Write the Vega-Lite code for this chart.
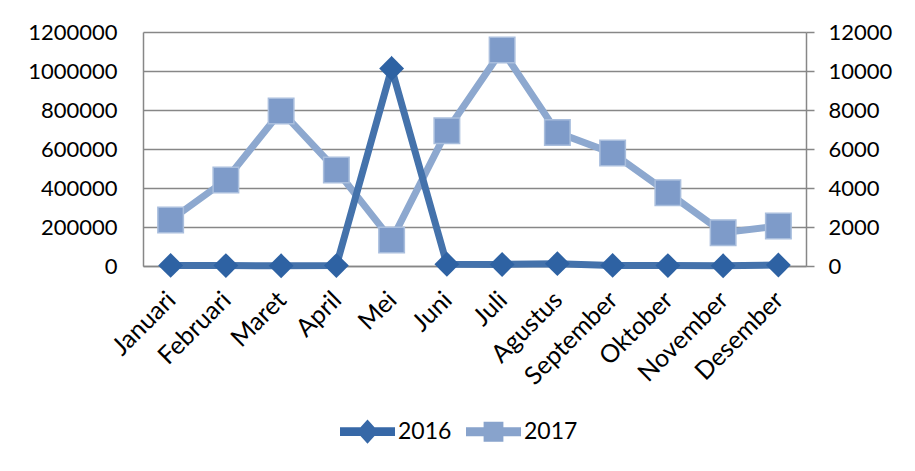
{
  "$schema": "https://vega.github.io/schema/vega-lite/v6.json",
  "width": 663,
  "height": 234,
  "autosize": {"type": "none"},
  "padding": {"left": 143, "top": 32, "right": 109, "bottom": 205},
  "background": "white",
  "config": {"view": {"stroke": null}, "font": "Lato"},
  "data": {"values": [
    {"month": "Januari", "series": "2016", "value": 3000},
    {"month": "Februari", "series": "2016", "value": 2000},
    {"month": "Maret", "series": "2016", "value": 1000},
    {"month": "April", "series": "2016", "value": 2000},
    {"month": "Mei", "series": "2016", "value": 1013000},
    {"month": "Juni", "series": "2016", "value": 9000},
    {"month": "Juli", "series": "2016", "value": 8000},
    {"month": "Agustus", "series": "2016", "value": 12000},
    {"month": "September", "series": "2016", "value": 3000},
    {"month": "Oktober", "series": "2016", "value": 2000},
    {"month": "November", "series": "2016", "value": 1000},
    {"month": "Desember", "series": "2016", "value": 5000},
    {"month": "Januari", "series": "2017", "value": 2360},
    {"month": "Februari", "series": "2017", "value": 4410},
    {"month": "Maret", "series": "2017", "value": 7950},
    {"month": "April", "series": "2017", "value": 4920},
    {"month": "Mei", "series": "2017", "value": 1330},
    {"month": "Juni", "series": "2017", "value": 6930},
    {"month": "Juli", "series": "2017", "value": 11080},
    {"month": "Agustus", "series": "2017", "value": 6840},
    {"month": "September", "series": "2017", "value": 5790},
    {"month": "Oktober", "series": "2017", "value": 3760},
    {"month": "November", "series": "2017", "value": 1710},
    {"month": "Desember", "series": "2017", "value": 2050}
  ]},
  "encoding": {
    "x": {
      "field": "month", "type": "nominal",
      "sort": ["Januari","Februari","Maret","April","Mei","Juni","Juli","Agustus","September","Oktober","November","Desember"],
      "scale": {"type": "point", "padding": 0.5},
      "axis": {"title": null, "labelAngle": -45, "labelAlign": "right", "labelBaseline": "top", "labelFontSize": 25, "labelColor": "#000000", "ticks": false, "domainColor": "#878787", "domainWidth": 1.5, "labelPadding": 21, "labelOffset": -8, "labelFont": "Lato", "labelOverlap": false, "labelLimit": 300}
    }
  },
  "layer": [
    {
      "transform": [{"filter": "datum.series == '2017'"}],
      "encoding": {
        "y": {"field": "value", "type": "quantitative", "scale": {"domain": [0, 12000]},
          "axis": {"orient": "right", "title": null, "values": [0,2000,4000,6000,8000,10000,12000], "format": "d", "grid": false, "ticks": true, "tickSize": 8, "tickColor": "#878787", "tickWidth": 1.5, "domainColor": "#878787", "domainWidth": 1.5, "labelFontSize": 22, "labelColor": "#000000", "labelPadding": 14, "labelFont": "Lato", "labelOverlap": false, "labelFlush": false}}
      },
      "layer": [
        {
          "mark": {"type": "line", "strokeWidth": 7, "strokeJoin": "miter"},
          "encoding": {
            "color": {"field": "series", "type": "nominal", "scale": {"domain": ["2016","2017"], "range": ["#4472AB","#8DA8CF"]},
              "legend": {
                "orient": "none", "legendX": 197, "legendY": 372, "direction": "horizontal", "title": null,
                "symbolSize": 3025, "symbolStrokeWidth": 0, "labelFontSize": 23, "labelFont": "Lato", "labelColor": "#000000", "labelOffset": 3, "columnPadding": 14,
                "encode": {"symbols": {"update": {
                  "shape": [{"test": "datum.value === '2016'", "value": "M-1,-0.16L-0.255,-0.16L0,-0.44L0.255,-0.16L1,-0.16L1,0.16L0.255,0.16L0,0.44L-0.255,0.16L-1,0.16Z"}, {"value": "M-1,-0.16L-0.36,-0.16L-0.36,-0.36L0.36,-0.36L0.36,-0.16L1,-0.16L1,0.16L0.36,0.16L0.36,0.36L-0.36,0.36L-0.36,0.16L-1,0.16Z"}],
                  "fill": [{"test": "datum.value === '2016'", "value": "#3768A7"}, {"value": "#88A3CC"}],
                  "strokeWidth": {"value": 0},
                  "opacity": {"value": 1}
                }}}
              }}
          }
        },
        {
          "mark": {"type": "point", "shape": "square", "filled": true, "size": 650, "color": "#7E9BC9", "stroke": "#A9BEDD", "strokeWidth": 1.5, "opacity": 1}
        }
      ]
    },
    {
      "transform": [{"filter": "datum.series == '2016'"}],
      "encoding": {
        "y": {"field": "value", "type": "quantitative", "scale": {"domain": [0, 1200000]},
          "axis": {"orient": "left", "title": null, "values": [0,200000,400000,600000,800000,1000000,1200000], "format": "d", "grid": true, "gridColor": "#878787", "gridWidth": 1.5, "ticks": false, "domainColor": "#878787", "domainWidth": 1.5, "labelFontSize": 22, "labelColor": "#000000", "labelPadding": 26, "labelFont": "Lato", "labelOverlap": false, "labelFlush": false}}
      },
      "layer": [
        {
          "mark": {"type": "line", "strokeWidth": 7, "strokeJoin": "miter"},
          "encoding": {
            "color": {"field": "series", "type": "nominal"}
          }
        },
        {
          "mark": {"type": "point", "shape": "diamond", "filled": true, "size": 620, "color": "#2E62A3", "opacity": 1}
        }
      ]
    }
  ],
  "resolve": {"scale": {"y": "independent"}}
}
